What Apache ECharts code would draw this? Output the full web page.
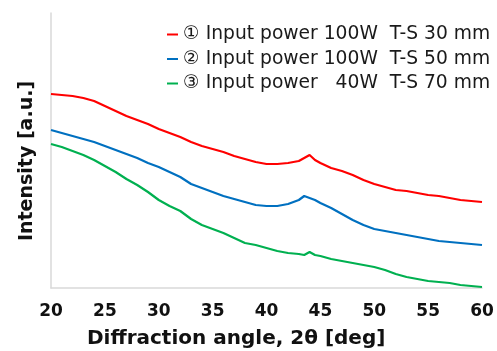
<!DOCTYPE html>
<html>
<head>
<meta charset="utf-8">
<script src="https://cdn.jsdelivr.net/npm/echarts@6/dist/echarts.min.js"></script>
<style>
html,body{margin:0;padding:0;background:#fff;}
#c{width:497px;height:351px;}
</style>
</head>
<body>
<div id="c"></div>
<script>
// Diffraction angle (deg)
const angles = [20,21,22,23,24,25,26,27,28,29,30,31,32,33,34,35,36,37,38,39,40,41,42,43,43.5,44,44.5,45,46,47,48,49,50,51,52,53,54,55,56,57,58,59,60];
// Intensity (arbitrary units)
const series1 = [194,193,192,190,187,182,177,172,168,164,159,155,151,146,142,139,136,132,129,126,124,124,125,127,130,133,128,125,120,117,113,108,104,101,98,97,95,93,92,90,88,87,86];
const series2 = [158,155,152,149,146,142,138,134,130,125,121,116,111,104,100,96,92,89,86,83,82,82,84,88,92,90,88,85,80,74,68,63,59,57,55,53,51,49,47,46,45,44,43];
const series3 = [144,141,137,133,128,122,116,109,103,96,88,82,77,69,63,59,55,50,45,43,40,37,35,34,33,36,33,32,29,27,25,23,21,18,14,11,9,7,6,5,3,2,1];
const seriesNames = [
  '\u2460 Input power 100W  T-S 30 mm',
  '\u2461 Input power 100W  T-S 50 mm',
  '\u2462 Input power   40W  T-S 70 mm'
];
const seriesColors = ['#FF0000', '#0070C0', '#00B050'];
const xTicks = [20,25,30,35,40,45,50,55,60];

const allSeries = [series1, series2, series3];
const chart = echarts.init(document.getElementById('c'), null, {renderer: 'canvas'});
const FONT = 'DejaVu Sans';
chart.setOption({
  animation: false,
  backgroundColor: '#ffffff',
  grid: {left: 51, right: 15, top: 13, bottom: 63},
  legend: {
    orient: 'vertical',
    left: 162,
    top: 20,
    itemGap: 5.5,
    itemWidth: 11,
    itemHeight: 2,
    icon: 'rect',
    textStyle: {fontFamily: FONT, fontSize: 18.7, color: '#1a1a1a'},
    data: seriesNames
  },
  xAxis: {
    type: 'value',
    min: xTicks[0],
    max: xTicks[xTicks.length - 1],
    interval: 5,
    axisLine: {show: true, lineStyle: {color: '#d9d9d9', width: 1.5}},
    axisTick: {show: false},
    splitLine: {show: false},
    axisLabel: {fontFamily: FONT, fontSize: 17, fontWeight: 'bold', color: '#111', margin: 15}
  },
  yAxis: {
    type: 'value',
    min: 0,
    max: 275,
    axisLine: {show: true, lineStyle: {color: '#d9d9d9', width: 1.5}},
    axisTick: {show: false},
    axisLabel: {show: false},
    splitLine: {show: false}
  },
  graphic: [
    {
      type: 'text',
      left: 87,
      top: 329,
      style: {text: 'Diffraction angle, 2\u03b8 [deg]', font: 'bold 20px "' + FONT + '"', fill: '#111'}
    },
    {
      type: 'text',
      x: 27,
      y: 161,
      rotation: Math.PI / 2,
      style: {text: 'Intensity [a.u.]', font: 'bold 19px "' + FONT + '"', fill: '#111', align: 'center', verticalAlign: 'middle'}
    }
  ],
  series: allSeries.map((vals, i) => ({
    name: seriesNames[i],
    type: 'line',
    showSymbol: false,
    smooth: false,
    data: angles.map((a, j) => [a, vals[j]]),
    lineStyle: {color: seriesColors[i], width: 2.2},
    itemStyle: {color: seriesColors[i]}
  }))
});
</script>
</body>
</html>
